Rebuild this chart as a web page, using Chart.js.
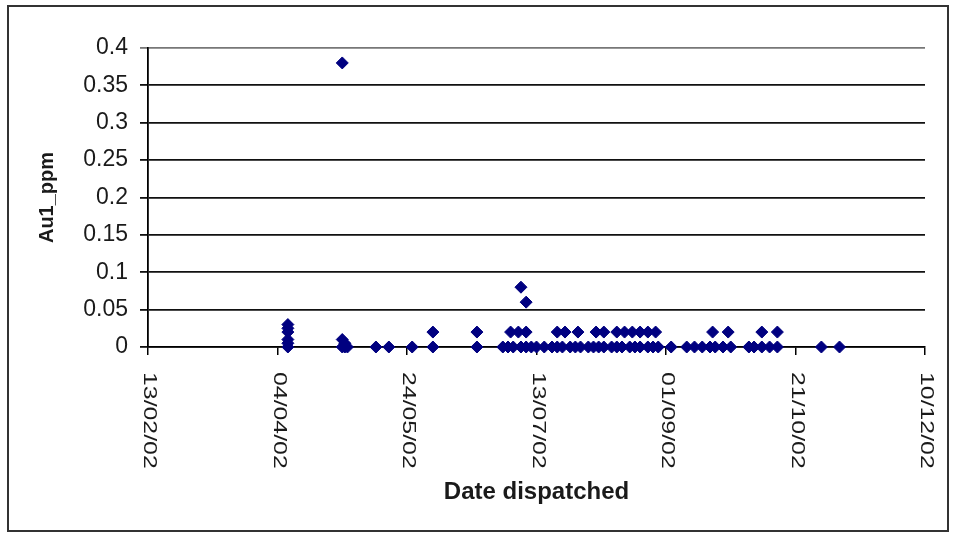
<!DOCTYPE html>
<html>
<head>
<meta charset="utf-8">
<title>Au1_ppm by date dispatched</title>
<script src="https://cdn.jsdelivr.net/npm/chart.js@4.4.1/dist/chart.umd.min.js"></script>
<style>
    html, body { margin: 0; padding: 0; background: #fff; }
    #wrap { width: 956px; height: 538px; }
</style>
</head>
<body>
<div id="wrap"><canvas id="auChart" width="956" height="538"></canvas></div>
<script>
// Axis range and tick labels (dates every 50 days)
const startDate = '2002-02-13';
const endDate = '2002-12-10';
const tickDates = ['2002-02-13', '2002-04-04', '2002-05-24', '2002-07-13', '2002-09-01', '2002-10-21', '2002-12-10'];
const tickLabels = ['13/02/02', '04/04/02', '24/05/02', '13/07/02', '01/09/02', '21/10/02', '10/12/02'];

// Samples: dispatch date and Au1 value (ppm), one entry per point
const dispatchDates = [
    '2002-04-08', '2002-04-08', '2002-04-08', '2002-04-08', '2002-04-08', '2002-04-08',
    '2002-04-29', '2002-04-29', '2002-04-29', '2002-04-30', '2002-04-30', '2002-05-01',
    '2002-05-12', '2002-05-17', '2002-05-26', '2002-06-03', '2002-06-03', '2002-06-20', '2002-06-20',
    '2002-06-30', '2002-07-02', '2002-07-03', '2002-07-04', '2002-07-06', '2002-07-07', '2002-07-07',
    '2002-07-09', '2002-07-09', '2002-07-09', '2002-07-11', '2002-07-13', '2002-07-16', '2002-07-19',
    '2002-07-21', '2002-07-21', '2002-07-23', '2002-07-24', '2002-07-26', '2002-07-28', '2002-07-29',
    '2002-07-30', '2002-08-02', '2002-08-04', '2002-08-05', '2002-08-06', '2002-08-08', '2002-08-08',
    '2002-08-11', '2002-08-13', '2002-08-13', '2002-08-15', '2002-08-16', '2002-08-18', '2002-08-19',
    '2002-08-20', '2002-08-22', '2002-08-22', '2002-08-25', '2002-08-25', '2002-08-27', '2002-08-28',
    '2002-08-29', '2002-09-03', '2002-09-09', '2002-09-12', '2002-09-15', '2002-09-18', '2002-09-19',
    '2002-09-20', '2002-09-23', '2002-09-25', '2002-09-26', '2002-10-03', '2002-10-05', '2002-10-08',
    '2002-10-08', '2002-10-11', '2002-10-14', '2002-10-14', '2002-10-31', '2002-11-07'
];
const au1Values = [
    0, 0.005, 0.01, 0.02, 0.025, 0.03,
    0.38, 0.01, 0, 0.005, 0, 0,
    0, 0, 0, 0, 0.02, 0, 0.02,
    0, 0, 0.02, 0, 0.02, 0.08, 0,
    0.06, 0.02, 0, 0, 0, 0, 0,
    0.02, 0, 0, 0.02, 0, 0, 0.02,
    0, 0, 0, 0.02, 0, 0.02, 0,
    0, 0.02, 0, 0, 0.02, 0, 0.02,
    0, 0.02, 0, 0.02, 0, 0, 0.02,
    0, 0, 0, 0, 0, 0, 0.02,
    0, 0, 0.02, 0, 0, 0, 0.02,
    0, 0, 0.02, 0, 0, 0
];

const yMax = 0.4;
const yStep = 0.05;

// days since the first axis date
function dayOf(s) {
    const [y, m, d] = s.split('-').map(Number);
    const [y0, m0, d0] = startDate.split('-').map(Number);
    return (Date.UTC(y, m - 1, d) - Date.UTC(y0, m0 - 1, d0)) / 86400000;
}

const points = dispatchDates.map((d, i) => ({ x: dayOf(d), y: au1Values[i] }));
const textFont = '"Liberation Sans", Arial, sans-serif';

// white background, outer frame and vertical date labels
const frameAndDates = {
    id: 'frameAndDates',
    beforeDraw(chart) {
        const ctx = chart.ctx;
        ctx.save();
        ctx.fillStyle = '#fff';
        ctx.fillRect(0, 0, chart.width, chart.height);
        ctx.strokeStyle = '#333';
        ctx.lineWidth = 2;
        ctx.strokeRect(8, 6, 940, 525);
        ctx.restore();
    },
    afterDraw(chart) {
        const ctx = chart.ctx;
        const xs = chart.scales.x;
        ctx.save();
        ctx.font = '18px ' + textFont;
        ctx.fillStyle = '#1a1a1a';
        ctx.textAlign = 'left';
        ctx.textBaseline = 'middle';
        tickDates.forEach((d, i) => {
            const px = xs.getPixelForValue(dayOf(d));
            ctx.save();
            ctx.translate(px + 1, xs.top + 25);
            ctx.rotate(Math.PI / 2);
            ctx.scale(1.38, 1);
            ctx.fillText(tickLabels[i], 0, 0);
            ctx.restore();
        });
        ctx.restore();
    }
};

new Chart(document.getElementById('auChart'), {
    type: 'scatter',
    data: {
        datasets: [{
            label: 'Au1_ppm',
            data: points,
            clip: false,
            pointStyle: 'rectRot',
            pointRadius: 6,
            pointHoverRadius: 6,
            backgroundColor: '#000080',
            borderColor: '#000080',
            borderWidth: 1
        }]
    },
    options: {
        responsive: false,
        animation: false,
        layout: { padding: { left: 0, top: 48, right: 31, bottom: 0 } },
        plugins: {
            legend: { display: false },
            tooltip: { enabled: false }
        },
        scales: {
            x: {
                type: 'linear',
                min: 0,
                max: dayOf(endDate),
                afterBuildTicks: scale => {
                    scale.ticks = tickDates.map(d => ({ value: dayOf(d) }));
                },
                afterFit: scale => { scale.height = 191; },
                ticks: { display: false },
                grid: { drawOnChartArea: false, drawTicks: true, tickLength: 8, color: '#000', lineWidth: 1.5 },
                border: { display: true, color: '#000', width: 1.5 },
                title: {
                    display: true,
                    text: 'Date dispatched',
                    color: '#1a1a1a',
                    font: { family: textFont, size: 24, weight: 'bold' },
                    padding: { top: 0, bottom: 31 }
                }
            },
            y: {
                min: 0,
                max: yMax,
                afterFit: scale => { scale.width = 148; },
                ticks: {
                    stepSize: yStep,
                    padding: 12,
                    color: '#1a1a1a',
                    font: { family: textFont, size: 23 },
                    callback: v => String(+v.toFixed(2))
                },
                grid: {
                    color: ctx => (ctx.tick && Math.abs(ctx.tick.value - yMax) < 1e-9 ? '#777' : '#111'),
                    lineWidth: 1.8,
                    tickLength: 8
                },
                border: { display: true, color: '#000', width: 1.8 },
                title: {
                    display: true,
                    text: 'Au1_ppm',
                    color: '#1a1a1a',
                    font: { family: textFont, size: 20, weight: 'bold' },
                    padding: { top: 35, bottom: 0 }
                }
            }
        }
    },
    plugins: [frameAndDates]
});
</script>
</body>
</html>
